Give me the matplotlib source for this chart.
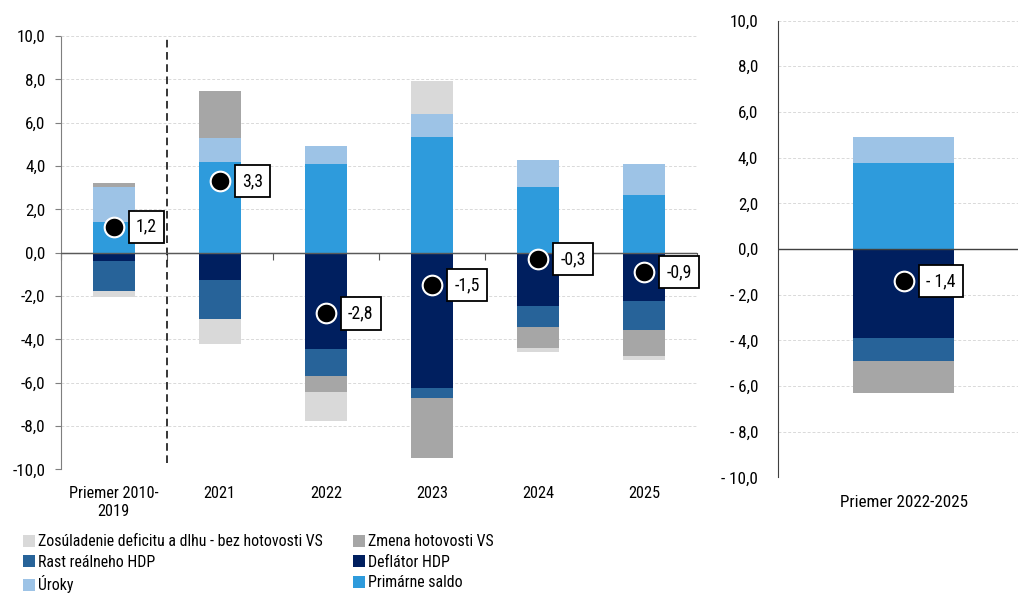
import numpy as np
import matplotlib
matplotlib.use("Agg")
import matplotlib.pyplot as plt
from matplotlib.ticker import FuncFormatter
from matplotlib.patches import Patch
from matplotlib import font_manager

# pick a narrow sans if one is installed, else regular Liberation Sans a bit smaller
_names = sorted({f.name for f in font_manager.fontManager.ttflist})
_narrow = [n for n in ["Liberation Sans Narrow", "Arial Narrow", "Roboto Condensed",
                       "Open Sans Condensed", "DejaVu Sans Condensed"] if n in _names]
if _narrow:
    plt.rcParams['font.family'] = [_narrow[0], 'Liberation Sans', 'DejaVu Sans']
    FS = 12 if _narrow[0] != "DejaVu Sans Condensed" else 10.5
else:
    plt.rcParams['font.family'] = ['Liberation Sans', 'DejaVu Sans']
    FS = 10.5

# ---------------- data ----------------
categories = ["Priemer 2010-\n2019", "2021", "2022", "2023", "2024", "2025"]
primarne = [1.43, 4.20, 4.09, 5.35, 3.03, 2.66]
uroky = [1.62, 1.10, 0.83, 1.05, 1.25, 1.43]
deflator = [-0.38, -1.26, -4.44, -6.26, -2.46, -2.23]
rast = [-1.39, -1.79, -1.25, -0.42, -0.98, -1.34]
zmena_hot = [0.15, 2.16, -0.72, -2.78, -0.94, -1.20]
zosuladenie = [-0.29, -1.15, -1.36, 1.54, -0.19, -0.17]
totals = [1.2, 3.3, -2.8, -1.5, -0.3, -0.9]
total_labels = ["1,2", "3,3", "-2,8", "-1,5", "-0,3", "-0,9"]

avg_category = ["Priemer 2022-2025"]
avg_primarne = [3.78]
avg_uroky = [1.14]
avg_deflator = [-3.90]
avg_rast = [-0.99]
avg_zmena_hot = [-1.43]
avg_zosuladenie = [0.0]
avg_total = [-1.4]
avg_total_labels = ["- 1,4"]

names = ["Primárne saldo", "Úroky", "Deflátor HDP", "Rast reálneho HDP",
         "Zmena hotovosti VS", "Zosúladenie deficitu a dlhu - bez hotovosti VS"]
colors = {"Primárne saldo": "#2E9BDC",
          "Úroky": "#9DC3E6",
          "Deflátor HDP": "#001F5F",
          "Rast reálneho HDP": "#276399",
          "Zmena hotovosti VS": "#A6A6A6",
          "Zosúladenie deficitu a dlhu - bez hotovosti VS": "#D9D9D9"}


def stacked(ax, x, series, width):
    pos = np.zeros(len(x))
    neg = np.zeros(len(x))
    for name, vals in zip(names, series):
        v = np.array(vals, dtype=float)
        bottom = np.where(v >= 0, pos, neg)
        ax.bar(x, v, width, bottom=bottom, color=colors[name], linewidth=0, zorder=2)
        pos = pos + np.where(v > 0, v, 0)
        neg = neg + np.where(v < 0, v, 0)


def dots(ax, x, tot, labs, dx):
    ax.scatter(x, tot, s=200, c="black", edgecolors="white", linewidths=1.5, zorder=6)
    for xi, yi, lb in zip(x, tot, labs):
        ax.annotate(lb, (xi, yi), xytext=(dx, 0), textcoords="offset points",
                    ha="left", va="center", fontsize=FS + 0.8, zorder=7,
                    bbox=dict(boxstyle="square,pad=0.4", fc="white", ec="black", lw=1.3))


fig = plt.figure(figsize=(10.2, 5.95), dpi=100)

# ---------------- left panel ----------------
ax1 = fig.add_axes([0.0595, 0.211, 0.624, 0.7285])
x = np.arange(len(categories))
stacked(ax1, x, [primarne, uroky, deflator, rast, zmena_hot, zosuladenie], 0.4)
dots(ax1, x, totals, total_labels, 16)
ax1.set_xlim(-0.5, len(categories) - 0.5)
ax1.set_ylim(-10, 10)
ax1.set_yticks(np.arange(-10, 10.1, 2))
ax1.yaxis.set_major_formatter(FuncFormatter(lambda v, p: f"{v:.1f}".replace(".", ",").replace("-0,0", "0,0")))
ax1.grid(axis="y", color="#D9D9D9", linestyle=(0, (3, 2)), linewidth=0.7, zorder=0)
ax1.set_xticks(x)
ax1.set_xticklabels(categories)
ax1.tick_params(axis="x", length=0, pad=12, labelsize=FS - 0.3)
ax1.tick_params(axis="y", length=4, color="#7F7F7F", pad=7, labelsize=FS + 0.3)
for s in ["top", "right", "bottom"]:
    ax1.spines[s].set_visible(False)
ax1.spines["left"].set_linestyle((0, (1, 1)))
ax1.spines["left"].set_color("#7F7F7F")
ax1.axvline(0.5, ymin=0.015, ymax=1.0, color="black", linestyle=(0, (5, 3)), linewidth=1.1, zorder=3)
ax1.axhline(0, color="#595959", linewidth=1.0, zorder=3)
sec = ax1.secondary_xaxis(0.5)
sec.set_xticks(np.arange(-0.5, len(categories), 1))
sec.set_xticklabels([])
sec.tick_params(direction="in", length=5, color="#595959")
for s in sec.spines.values():
    s.set_color("#595959")

# ---------------- right panel ----------------
ax2 = fig.add_axes([0.7625, 0.1976, 0.2356, 0.7677])
x2 = np.arange(len(avg_category))
stacked(ax2, x2, [avg_primarne, avg_uroky, avg_deflator, avg_rast, avg_zmena_hot, avg_zosuladenie], 0.42)
dots(ax2, x2, avg_total, avg_total_labels, 16)
ax2.set_xlim(-0.524, 0.476)
ax2.set_ylim(-10, 10)
ax2.set_yticks(np.arange(-10, 10.1, 2))


def fmt2(v, p):
    s = f"{abs(v):.1f}".replace(".", ",")
    return f"- {s}" if v < -1e-9 else s


ax2.yaxis.set_major_formatter(FuncFormatter(fmt2))
ax2.grid(axis="y", color="#D9D9D9", linestyle=(0, (3, 2)), linewidth=0.7, zorder=0)
ax2.set_xticks(x2)
ax2.set_xticklabels(avg_category)
ax2.tick_params(axis="x", length=0, pad=13, labelsize=FS + 0.3)
ax2.tick_params(axis="y", length=0, pad=14, labelsize=FS + 0.3)
for s in ["top", "right", "bottom"]:
    ax2.spines[s].set_visible(False)
ax2.spines["left"].set_color("#404040")
ax2.axhline(0, color="#404040", linewidth=1.0, zorder=3)

# ---------------- legend ----------------
order = ["Zosúladenie deficitu a dlhu - bez hotovosti VS", "Rast reálneho HDP", "Úroky",
         "Zmena hotovosti VS", "Deflátor HDP", "Primárne saldo"]
handles = [Patch(facecolor=colors[n], edgecolor="none") for n in order]
fig.legend(handles, order, ncol=2, loc="upper left", bbox_to_anchor=(0.016, 0.113),
           frameon=False, fontsize=FS - 0.6, handlelength=0.8, handleheight=0.8,
           handletextpad=0.15, columnspacing=1.9, labelspacing=0.36, borderaxespad=0)

fig.savefig("out.png", dpi=100)
